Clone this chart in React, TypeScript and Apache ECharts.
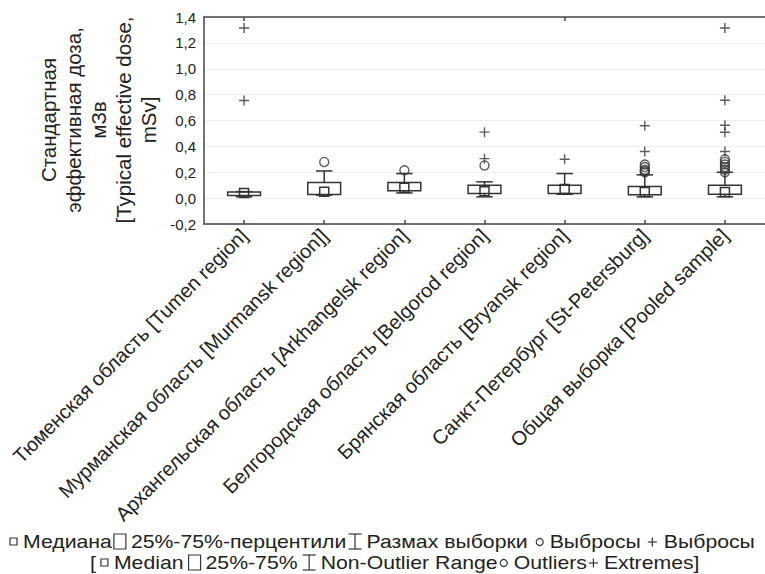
import React, { useEffect, useRef } from "react";
import * as echarts from "echarts";

const categories = [
  "Тюменская область [Tumen region]",
  "Мурманская область [Murmansk region]]",
  "Архангельская область [Arkhangelsk region]",
  "Белгородская область [Belgorod region]",
  "Брянская область [Bryansk region]",
  "Санкт-Петербург [St-Petersburg]",
  "Общая выборка [Pooled sample]",
];

// Non-outlier range and quartiles, mSv
const boxMin = [0.01, 0.023, 0.04, 0.01, 0.03, 0.01, 0.01];
const boxQ1 = [0.02, 0.028, 0.057, 0.036, 0.036, 0.026, 0.029];
const boxMedian = [0.04, 0.05, 0.08, 0.054, 0.07, 0.047, 0.047];
const boxQ3 = [0.048, 0.12, 0.12, 0.1, 0.1, 0.09, 0.1];
const boxMax = [0.05, 0.21, 0.19, 0.126, 0.19, 0.18, 0.2];

const outliers: number[][] = [
  [],
  [0.28],
  [0.215],
  [0.253],
  [],
  [0.2, 0.21, 0.22, 0.24, 0.26],
  [0.2, 0.22, 0.24, 0.26, 0.28, 0.3],
];
const extremes: number[][] = [
  [1.315, 0.755],
  [],
  [],
  [0.51, 0.305],
  [0.3],
  [0.56, 0.36],
  [1.315, 0.757, 0.563, 0.509, 0.36],
];

const yMin = -0.2;
const yMax = 1.4;
const yStep = 0.2;

const yTitle = "Стандартная\nэффективная доза,\nмЗв\n[Typical effective dose,\nmSv]";

const legendRu = ["Медиана", "25%-75%-перцентили", "Размах выборки", "Выбросы", "Выбросы"];
const legendEn = ["Median", "25%-75%", "Non-Outlier Range", "Outliers", "Extremes]"];

const FONT = '"Liberation Sans", Arial, "DejaVu Sans", sans-serif';
const INK = "#333333";
const TEXT = "#222222";

function measure(text: string, size: number): number {
  const c = document.createElement("canvas");
  const ctx = c.getContext("2d");
  if (!ctx) return text.length * size * 0.55;
  ctx.font = `${size}px "Liberation Sans", Arial, sans-serif`;
  return ctx.measureText(text).width;
}

type Tok = { kind: string; text?: string; gap: number };

function iconWidth(kind: string): number {
  if (kind === "median") return 8;
  if (kind === "box") return 12;
  if (kind === "whisker") return 13;
  if (kind === "circle") return 8;
  if (kind === "plus") return 9;
  return 0;
}

function buildLine(tokens: Tok[], left: number, cy: number, size: number, sx: number): any[] {
  const els: any[] = [];
  let x = left;
  const lw = 1.2;
  for (const t of tokens) {
    if (t.kind === "text") {
      els.push({
        type: "text",
        x,
        y: cy,
        scaleX: sx,
        style: {
          text: t.text,
          font: `${size}px ${FONT}`,
          fill: TEXT,
          textAlign: "left",
          textVerticalAlign: "middle",
        },
      });
      x += measure(t.text || "", size) * sx;
    } else {
      const w = iconWidth(t.kind);
      const st = { stroke: INK, fill: "none", lineWidth: lw };
      if (t.kind === "median") {
        els.push({ type: "rect", shape: { x: x, y: cy - 4, width: 7, height: 7 }, style: st });
      } else if (t.kind === "box") {
        els.push({ type: "rect", shape: { x: x, y: cy - 8, width: 12, height: 15 }, style: st });
      } else if (t.kind === "whisker") {
        els.push({ type: "line", shape: { x1: x, y1: cy - 8, x2: x + 13, y2: cy - 8 }, style: st });
        els.push({ type: "line", shape: { x1: x + 6.5, y1: cy - 8, x2: x + 6.5, y2: cy + 7 }, style: st });
        els.push({ type: "line", shape: { x1: x, y1: cy + 7, x2: x + 13, y2: cy + 7 }, style: st });
      } else if (t.kind === "circle") {
        els.push({ type: "circle", shape: { cx: x + 4, cy: cy, r: 3.5 }, style: st });
      } else if (t.kind === "plus") {
        els.push({ type: "line", shape: { x1: x, y1: cy, x2: x + 9, y2: cy }, style: st });
        els.push({ type: "line", shape: { x1: x + 4.5, y1: cy - 4.5, x2: x + 4.5, y2: cy + 4.5 }, style: st });
      }
      x += w;
    }
    x += t.gap;
  }
  return els;
}

export default function App() {
  const ref = useRef<HTMLDivElement>(null);

  useEffect(() => {
    if (!ref.current) return;
    const chart = echarts.init(ref.current, undefined, { renderer: "svg" });

    const boxData = categories.map((_, i) => [i, boxMin[i], boxQ1[i], boxMedian[i], boxQ3[i], boxMax[i]]);
    const outlierData: number[][] = [];
    outliers.forEach((arr, i) => arr.forEach((v) => outlierData.push([i, v])));
    const extremeData: number[][] = [];
    extremes.forEach((arr, i) => arr.forEach((v) => extremeData.push([i, v])));

    const legSize = 18;
    const legScale = 1.18;
    const line1: Tok[] = [
      { kind: "median", gap: 5 },
      { kind: "text", text: legendRu[0], gap: 2 },
      { kind: "box", gap: 5 },
      { kind: "text", text: legendRu[1], gap: 2 },
      { kind: "whisker", gap: 5 },
      { kind: "text", text: legendRu[2], gap: 8 },
      { kind: "circle", gap: 6 },
      { kind: "text", text: legendRu[3], gap: 7 },
      { kind: "plus", gap: 7 },
      { kind: "text", text: legendRu[4], gap: 0 },
    ];
    const line2: Tok[] = [
      { kind: "text", text: "[", gap: 5 },
      { kind: "median", gap: 5 },
      { kind: "text", text: legendEn[0], gap: 5 },
      { kind: "box", gap: 5 },
      { kind: "text", text: legendEn[1], gap: 5 },
      { kind: "whisker", gap: 5 },
      { kind: "text", text: legendEn[2], gap: 2 },
      { kind: "circle", gap: 6 },
      { kind: "text", text: legendEn[3], gap: 2 },
      { kind: "plus", gap: 6 },
      { kind: "text", text: legendEn[4], gap: 0 },
    ];

    const axisLineStyle = { color: "#444444", width: 1.5 };

    const option: any = {
      animation: false,
      grid: { left: 204, top: 17, right: -6, bottom: 350, containLabel: false },
      xAxis: [
        {
          type: "category",
          data: categories,
          position: "bottom",
          boundaryGap: true,
          axisLine: { show: true, onZero: false, lineStyle: axisLineStyle },
          axisTick: { show: true, inside: true, alignWithLabel: true, length: 4, lineStyle: axisLineStyle },
          axisLabel: {
            rotate: 45,
            interval: 0,
            margin: 8,
            fontSize: 20,
            fontFamily: FONT,
            color: TEXT,
          },
          splitLine: { show: false },
        },
        {
          type: "category",
          data: categories,
          position: "top",
          boundaryGap: true,
          axisLine: { show: true, onZero: false, lineStyle: axisLineStyle },
          axisTick: { show: true, inside: true, alignWithLabel: true, length: 4, lineStyle: axisLineStyle },
          axisLabel: { show: false },
          splitLine: { show: false },
        },
      ],
      yAxis: {
        type: "value",
        min: yMin,
        max: yMax,
        interval: yStep,
        axisLine: { show: true, lineStyle: axisLineStyle },
        axisTick: { show: false },
        axisLabel: {
          margin: 8,
          fontSize: 15,
          fontFamily: FONT,
          color: TEXT,
          formatter: (v: number) => v.toFixed(1).replace(".", ","),
        },
        splitLine: { show: true, lineStyle: { color: "#eeeeee", width: 1 } },
      },
      graphic: [
        {
          type: "text",
          x: 98,
          y: 120,
          rotation: Math.PI / 2,
          style: {
            text: yTitle,
            font: `20.5px ${FONT}`,
            fill: TEXT,
            textAlign: "center",
            textVerticalAlign: "middle",
            lineHeight: 25,
          },
        },
        ...buildLine(line1, 10, 542, legSize, legScale),
        ...buildLine(line2, 90, 563, legSize, legScale),
      ],
      series: [
        {
          type: "custom",
          name: "box",
          xAxisIndex: 0,
          yAxisIndex: 0,
          silent: true,
          data: boxData,
          encode: { x: 0, y: [1, 2, 3, 4, 5] },
          renderItem: (params: any, api: any) => {
            const idx = api.value(0);
            const x = api.coord([idx, api.value(1)])[0];
            const yLo = api.coord([idx, api.value(1)])[1];
            const yQ1 = api.coord([idx, api.value(2)])[1];
            const yMed = api.coord([idx, api.value(3)])[1];
            const yQ3 = api.coord([idx, api.value(4)])[1];
            const yHi = api.coord([idx, api.value(5)])[1];
            const bw = api.size([1, 0])[0] * 0.41;
            const cw = bw * 0.5;
            const st = { stroke: INK, fill: "none", lineWidth: 1.5 };
            const sq = 9;
            return {
              type: "group",
              children: [
                { type: "line", shape: { x1: x, y1: yHi, x2: x, y2: yQ3 }, style: st },
                { type: "line", shape: { x1: x - cw / 2, y1: yHi, x2: x + cw / 2, y2: yHi }, style: st },
                { type: "line", shape: { x1: x, y1: yQ1, x2: x, y2: yLo }, style: st },
                { type: "line", shape: { x1: x - cw / 2, y1: yLo, x2: x + cw / 2, y2: yLo }, style: st },
                { type: "rect", shape: { x: x - bw / 2, y: yQ3, width: bw, height: yQ1 - yQ3 }, style: st },
                { type: "rect", shape: { x: x - sq / 2, y: yMed - sq / 2, width: sq, height: sq }, style: st },
              ],
            };
          },
        },
        {
          type: "scatter",
          name: "outliers",
          silent: true,
          data: outlierData,
          symbol: "circle",
          symbolSize: 9,
          itemStyle: { color: "rgba(0,0,0,0)", borderColor: INK, borderWidth: 1.4 },
        },
        {
          type: "scatter",
          name: "extremes",
          silent: true,
          data: extremeData,
          symbol: "path://M4 0 L4 8 M0 4 L8 4",
          symbolSize: 10,
          itemStyle: { color: "rgba(0,0,0,0)", borderColor: INK, borderWidth: 1.4 },
        },
      ],
    };

    chart.setOption(option);
    return () => chart.dispose();
  }, []);

  return (
    <div
      ref={ref}
      style={{ position: "fixed", left: 0, top: 0, width: 765, height: 574, background: "#ffffff" }}
    />
  );
}
